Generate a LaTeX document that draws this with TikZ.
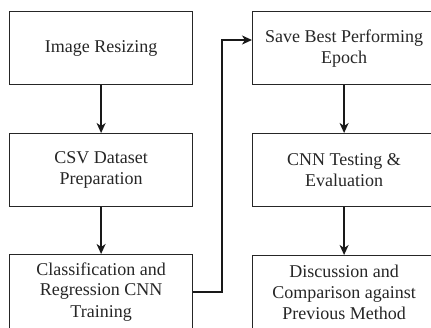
\documentclass[tikz,border=0pt]{standalone}
\usepackage{fontspec}
\setmainfont{Liberation Serif}
\usetikzlibrary{arrows.meta}
\tikzset{
  box/.style={draw=black!85, line width=1.2pt, minimum width=183pt, minimum height=73pt, inner sep=0pt,
    align=center, text=black!85, font=\fontsize{18}{21}\selectfont, anchor=north west},
  arr/.style={line width=2pt, -{Stealth[length=10pt,width=9pt,inset=3pt]}, black!90}
}
\begin{document}
\begin{tikzpicture}[x=1pt,y=-1pt]
\useasboundingbox (0,0) rectangle (431,327);
\clip (0,0) rectangle (431,327);
\node[box] (b1) at (9,11) {Image Resizing};
\node[box] (b2) at (9,133) {CSV Dataset\\Preparation};
\node[box, minimum height=74pt] (b3) at (9,254) {Classification and\\Regression CNN\\Training};
\node[box] (b4) at (252,11) {Save Best Performing\\Epoch};
\node[box] (b5) at (252,133) {CNN Testing \&\\Evaluation};
\node[box, minimum height=74pt] (b6) at (252,255) {Discussion and\\Comparison against\\Previous Method};
\draw[arr] (b1) -- (b2);
\draw[arr] (b2) -- (b3);
\draw[arr] (b4) -- (b5);
\draw[arr] (b5) -- (b6);
\coordinate (c1) at (222,292);
\coordinate (c2) at (222,40);
\draw[arr] (b3.east |- c1) -- (c1) -- (c2) -- (b4.west |- c2);
\end{tikzpicture}
\end{document}
